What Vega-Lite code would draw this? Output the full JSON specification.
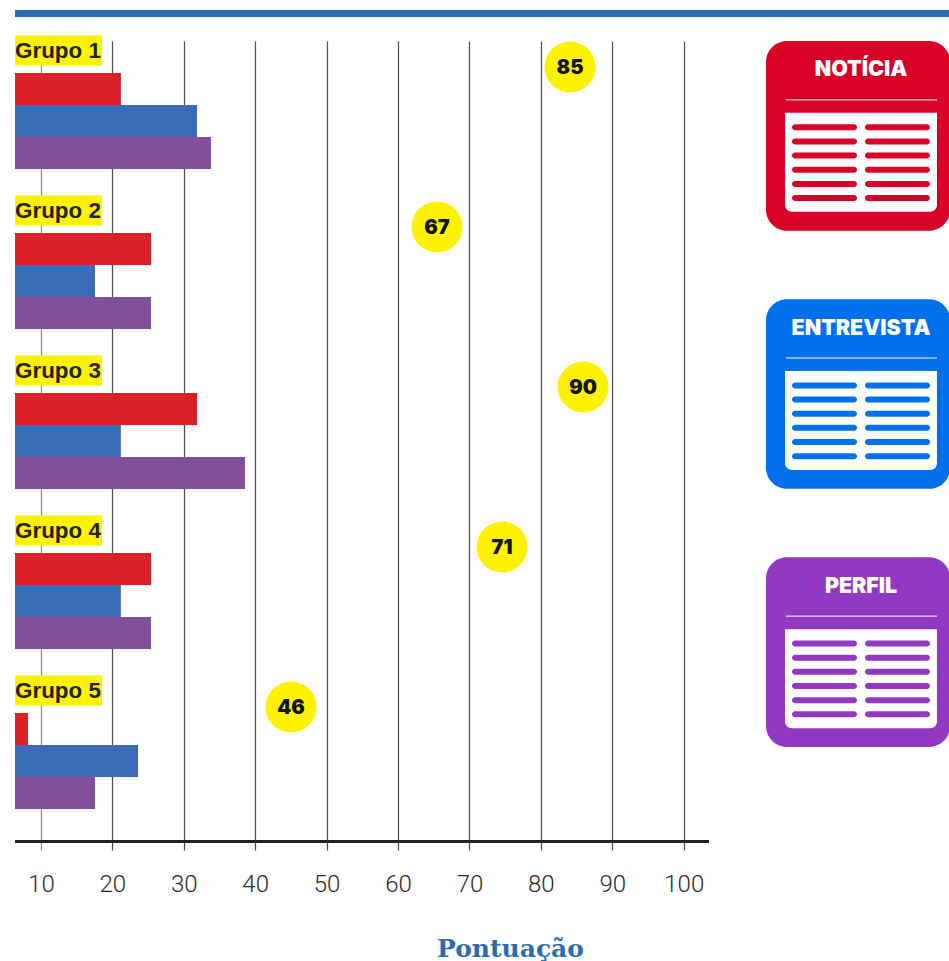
{
"$schema":"https://vega.github.io/schema/vega-lite/v6.json",
"width":949,"height":809,"padding":{"top":41,"left":0,"right":0,"bottom":111},"autosize":{"type":"none"},
"background":"white",
"config":{"view":{"stroke":null}},
"datasets":{
"bars":[
{"group":"Grupo 1","series":"Notícia","value":21.2},{"group":"Grupo 1","series":"Entrevista","value":31.86},{"group":"Grupo 1","series":"Perfil","value":33.82},
{"group":"Grupo 2","series":"Notícia","value":25.42},{"group":"Grupo 2","series":"Entrevista","value":17.58},{"group":"Grupo 2","series":"Perfil","value":25.42},
{"group":"Grupo 3","series":"Notícia","value":31.86},{"group":"Grupo 3","series":"Entrevista","value":21.2},{"group":"Grupo 3","series":"Perfil","value":38.58},
{"group":"Grupo 4","series":"Notícia","value":25.42},{"group":"Grupo 4","series":"Entrevista","value":21.2},{"group":"Grupo 4","series":"Perfil","value":25.42},
{"group":"Grupo 5","series":"Notícia","value":8.2},{"group":"Grupo 5","series":"Entrevista","value":23.6},{"group":"Grupo 5","series":"Perfil","value":17.58}],
"groups":[
{"group":"Grupo 1","slot":"label","total":85,"pos":84.08},
{"group":"Grupo 2","slot":"label","total":67,"pos":65.46},
{"group":"Grupo 3","slot":"label","total":90,"pos":85.9},
{"group":"Grupo 4","slot":"label","total":71,"pos":74.56},
{"group":"Grupo 5","slot":"label","total":46,"pos":45.02}],
"cards":[{"card":"NOTÍCIA"},{"card":"ENTREVISTA"},{"card":"PERFIL"}],
"lines":[
{"card":"NOTÍCIA","row":1,"col":"a"},{"card":"NOTÍCIA","row":1,"col":"b"},{"card":"NOTÍCIA","row":2,"col":"a"},{"card":"NOTÍCIA","row":2,"col":"b"},{"card":"NOTÍCIA","row":3,"col":"a"},{"card":"NOTÍCIA","row":3,"col":"b"},{"card":"NOTÍCIA","row":4,"col":"a"},{"card":"NOTÍCIA","row":4,"col":"b"},{"card":"NOTÍCIA","row":5,"col":"a"},{"card":"NOTÍCIA","row":5,"col":"b"},{"card":"NOTÍCIA","row":6,"col":"a"},{"card":"NOTÍCIA","row":6,"col":"b"},
{"card":"ENTREVISTA","row":1,"col":"a"},{"card":"ENTREVISTA","row":1,"col":"b"},{"card":"ENTREVISTA","row":2,"col":"a"},{"card":"ENTREVISTA","row":2,"col":"b"},{"card":"ENTREVISTA","row":3,"col":"a"},{"card":"ENTREVISTA","row":3,"col":"b"},{"card":"ENTREVISTA","row":4,"col":"a"},{"card":"ENTREVISTA","row":4,"col":"b"},{"card":"ENTREVISTA","row":5,"col":"a"},{"card":"ENTREVISTA","row":5,"col":"b"},{"card":"ENTREVISTA","row":6,"col":"a"},{"card":"ENTREVISTA","row":6,"col":"b"},
{"card":"PERFIL","row":1,"col":"a"},{"card":"PERFIL","row":1,"col":"b"},{"card":"PERFIL","row":2,"col":"a"},{"card":"PERFIL","row":2,"col":"b"},{"card":"PERFIL","row":3,"col":"a"},{"card":"PERFIL","row":3,"col":"b"},{"card":"PERFIL","row":4,"col":"a"},{"card":"PERFIL","row":4,"col":"b"},{"card":"PERFIL","row":5,"col":"a"},{"card":"PERFIL","row":5,"col":"b"},{"card":"PERFIL","row":6,"col":"a"},{"card":"PERFIL","row":6,"col":"b"}]
},
"resolve":{"scale":{"x":"independent","y":"independent","yOffset":"independent","color":"independent"},"axis":{"x":"independent","y":"independent"}},
"layer":[
{
 "layer":[
  {"data":{"name":"bars"},"mark":{"type":"bar"},
   "encoding":{
    "x":{"field":"value","type":"quantitative","stack":null,
     "scale":{"domain":[4.277,137.14],"nice":false,"zero":false},
     "axis":{"values":[10,20,30,40,50,60,70,80,90,100],"orient":"bottom","grid":true,
       "gridColor":{"condition":{"test":"datum.value===10","value":"#8a8a8a"},"value":"#4a4a4a"},"gridWidth":1.2,
       "ticks":false,"domain":false,"labelFont":"Roboto","labelFontWeight":300,"labelFontSize":24,"labelColor":"#2a2a2a","labelPadding":22,"labelFlush":false,
       "title":"Pontuação","titleFont":"DejaVu Serif","titleFontWeight":"bold","titleFontSize":25,"titleColor":"#2a6cae","titleX":510,"titleY":106,"titleAlign":"center","titleBaseline":"alphabetic"}},
    "x2":{"datum":6.38},
    "y":{"field":"group","type":"nominal","axis":null,"scale":{"domain":["Grupo 1","Grupo 2","Grupo 3","Grupo 4","Grupo 5"],"range":[0,809],"paddingInner":0,"paddingOuter":0.028125,"align":0}},
    "yOffset":{"field":"series","type":"nominal","scale":{"domain":["label","Notícia","Entrevista","Perfil","blank"],"range":[0,160],"paddingInner":0,"paddingOuter":0}},
    "color":{"field":"series","type":"nominal","legend":null,"scale":{"domain":["Notícia","Entrevista","Perfil"],"range":["#da2128","#3a6db5","#824f9c"]}}
   }},
  {"data":{"name":"groups"},"mark":{"type":"rule","color":"#fff200","strokeWidth":30},
   "encoding":{"x":{"datum":18.56,"type":"quantitative"},"x2":{"datum":6.38},
    "y":{"field":"group","type":"nominal","bandPosition":0.059}}},
  {"data":{"name":"groups"},"mark":{"type":"text","align":"left","baseline":"middle","font":"Liberation Sans","fontWeight":"bold","fontSize":22.4,"color":"#222222","dy":-6},
   "encoding":{"x":{"datum":6.38,"type":"quantitative"},
    "y":{"field":"group","type":"nominal"},"yOffset":{"field":"slot","type":"nominal"},"text":{"field":"group"}}},
  {"data":{"name":"groups"},"mark":{"type":"point","shape":"circle","filled":true,"size":2601,"color":"#fff200","opacity":1},
   "encoding":{"x":{"field":"pos","type":"quantitative"},"y":{"field":"group","type":"nominal","bandPosition":0.1625}}},
  {"data":{"name":"groups"},"mark":{"type":"text","font":"Inter","fontWeight":900,"fontSize":20,"color":"#111111","baseline":"middle","dy":1},
   "encoding":{"x":{"field":"pos","type":"quantitative"},"y":{"field":"group","type":"nominal","bandPosition":0.1625},"text":{"field":"total"}}},
  {"data":{"values":[{"k":1}]},"mark":{"type":"rule","strokeWidth":3,"color":"#222222","yOffset":0.5},
   "encoding":{"x":{"datum":6.38,"type":"quantitative"},"x2":{"datum":103.54},"y":{"datum":"Grupo 5","type":"nominal","bandPosition":1}}},
  {"data":{"values":[{"k":1}]},"mark":{"type":"rule","strokeWidth":7,"color":"#2a6cae","yOffset":-27.5},
   "encoding":{"x":{"datum":6.38,"type":"quantitative"},"x2":{"datum":137.14},"y":{"datum":"Grupo 1","type":"nominal","bandPosition":0}}}
 ]
},
{
 "data":{"name":"cards"},
 "encoding":{
  "y":{"field":"card","type":"nominal","axis":null,"scale":{"domain":["NOTÍCIA","ENTREVISTA","PERFIL"],"range":[0,706],"paddingInner":0.265,"paddingOuter":0}}
 },
 "layer":[
  {"mark":{"type":"bar","cornerRadius":21},
   "encoding":{"x":{"datum":111.52,"type":"quantitative","axis":null,"scale":{"domain":[4.277,137.14],"nice":false,"zero":false}},"x2":{"datum":137.3},
    "color":{"field":"card","type":"nominal","legend":null,"scale":{"domain":["NOTÍCIA","ENTREVISTA","PERFIL"],"range":["#d90027","#0070ef","#9239c3"]}}}},
  {"mark":{"type":"bar","color":"white","height":99,"yOffset":26.5,"cornerRadiusBottomLeft":7,"cornerRadiusBottomRight":7},
   "encoding":{"x":{"datum":114.18,"type":"quantitative"},"x2":{"datum":135.46}}},
  {"mark":{"type":"rule","color":"white","strokeWidth":1,"yOffset":-36},
   "encoding":{"x":{"datum":114.32,"type":"quantitative"},"x2":{"datum":135.46}}},
  {"mark":{"type":"text","color":"white","font":"Inter","fontWeight":900,"fontSize":21.4,"baseline":"middle","dy":-65.5},
   "encoding":{"x":{"datum":124.82,"type":"quantitative"},"text":{"field":"card"}}}
 ]
},
{
 "data":{"name":"lines"},
 "mark":{"type":"bar","height":6,"cornerRadius":3},
 "encoding":{
  "x":{"field":"col","type":"nominal","axis":null,"scale":{"domain":["a","b"],"range":[792,930],"paddingInner":0.11,"paddingOuter":0}},
  "y":{"field":"card","type":"nominal","axis":null,"scale":{"domain":["NOTÍCIA","ENTREVISTA","PERFIL"],"range":[0,706],"paddingInner":0.265,"paddingOuter":0}},
  "yOffset":{"field":"row","type":"ordinal","scale":{"domain":[1,2,3,4,5,6],"range":[79.2,164.1],"paddingInner":0,"paddingOuter":0}},
  "color":{"field":"card","type":"nominal","legend":null,"scale":{"domain":["NOTÍCIA","ENTREVISTA","PERFIL"],"range":["#d90027","#0070ef","#9239c3"]}}
 }
}
]
}
